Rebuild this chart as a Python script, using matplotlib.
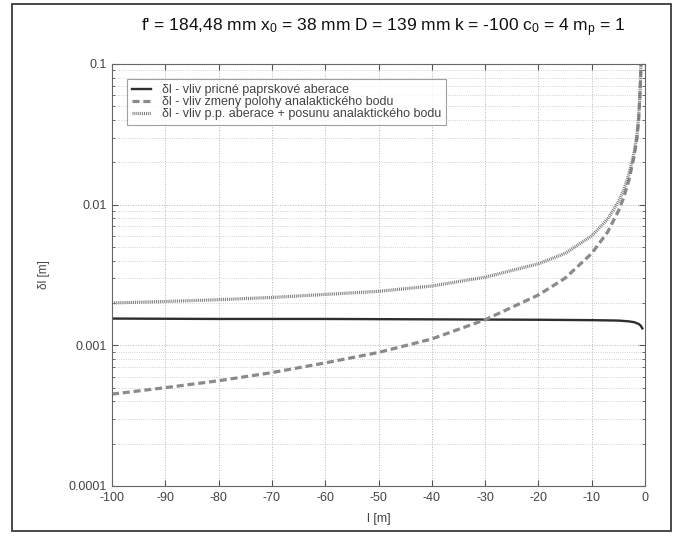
import matplotlib
matplotlib.use("Agg")
import matplotlib.pyplot as plt
from matplotlib.patches import Rectangle
from matplotlib.ticker import FixedLocator, FixedFormatter, LogLocator, NullFormatter

plt.rcParams["font.family"] = ["Liberation Sans", "DejaVu Sans"]
plt.rcParams["mathtext.fontset"] = "custom"
plt.rcParams["mathtext.rm"] = "Liberation Sans"
plt.rcParams["mathtext.it"] = "Liberation Sans"
plt.rcParams["axes.unicode_minus"] = False

TITLE = "f' = 184,48 mm x$_0$ = 38 mm D = 139 mm k = -100 c$_0$ = 4 m$_p$ = 1"
LABELS = [
    "δl - vliv pricné paprskové aberace",
    "δl - vliv zmeny polohy analaktického bodu",
    "δl - vliv p.p. aberace + posunu analaktického bodu",
]

# distance l [m] and the three error curves delta l [m]
l_abr = [-100, -80, -60, -40, -20, -10, -5, -3, -2, -1.2, -0.8, -0.5]
d_abr = [0.00155, 0.00154, 0.00154, 0.00153, 0.00152, 0.00151, 0.00150,
         0.00148, 0.00146, 0.00142, 0.00138, 0.00132]

l_pos = [-100, -90, -80, -70, -60, -50, -40, -30, -20, -15, -10, -7, -5,
         -4, -3, -2, -1.5, -1.2, -1, -0.85, -0.75]
d_pos = [0.00045, 0.00050, 0.00056, 0.00064, 0.00075, 0.00089, 0.00111,
         0.00152, 0.00228, 0.0030, 0.0045, 0.0064, 0.0090, 0.0112, 0.0150,
         0.0225, 0.030, 0.040, 0.055, 0.075, 0.10]

l_sum = l_pos
d_sum = [0.0020, 0.00205, 0.00211, 0.00219, 0.0023, 0.00242, 0.00264,
         0.00305, 0.0038, 0.0045, 0.0060, 0.0079, 0.0105, 0.0127, 0.0165,
         0.024, 0.0315, 0.0415, 0.0565, 0.0765, 0.10]

x_ticks = list(range(-100, 1, 10))
y_ticks = [0.0001, 0.001, 0.01, 0.1]
y_ticklabels = ["0.0001", "0.001", "0.01", "0.1"]

fig = plt.figure(figsize=(6.77, 5.36), dpi=100)
fig.patches.append(Rectangle((12 / 677, 5 / 536), 659 / 677, 527 / 536,
                             transform=fig.transFigure, fill=False,
                             edgecolor="#3a3a3a", linewidth=1.3))
ax = fig.add_axes([112 / 677, 50 / 536, 533 / 677, 422 / 536])

ax.plot(l_abr, d_abr, color="#2e2e2e", linewidth=1.7, label=LABELS[0])
ax.plot(l_pos, d_pos, color="#8a8a8a", linewidth=2.3, dashes=(2.2, 1.2),
        label=LABELS[1])
ax.plot(l_sum, d_sum, color="#7a7a7a", linewidth=2.3, dashes=(0.3, 0.3),
        label=LABELS[2])

ax.set_yscale("log")
ax.set_xlim(-100, 0)
ax.set_ylim(0.0001, 0.1)
ax.xaxis.set_major_locator(FixedLocator(x_ticks))
ax.yaxis.set_major_locator(FixedLocator(y_ticks))
ax.yaxis.set_major_formatter(FixedFormatter(y_ticklabels))
ax.yaxis.set_minor_locator(LogLocator(base=10, subs=range(2, 10)))
ax.yaxis.set_minor_formatter(NullFormatter())

ax.grid(True, which="major", linestyle=":", color="#b5b5b5", linewidth=0.7)
ax.grid(True, which="minor", axis="y", linestyle=":", color="#c5c5c5",
        linewidth=0.6)
ax.tick_params(which="both", direction="in", top=True, right=True,
               colors="#555555", labelcolor="#444444", labelsize=9, pad=4)
ax.tick_params(which="major", length=4)
ax.tick_params(which="minor", length=2.5)
for s in ax.spines.values():
    s.set_color("#666666")
    s.set_linewidth(0.8)

ax.set_xlabel("l [m]", fontsize=9, color="#444444", labelpad=7)
ax.set_ylabel("δl [m]", fontsize=8.5, color="#444444", labelpad=13)

leg = ax.legend(loc="upper left", bbox_to_anchor=(15 / 533, (486 - 79) / 422),
                fontsize=9, frameon=True, fancybox=False, handlelength=1.5,
                handletextpad=0.9, labelspacing=0.0, borderpad=0.4,
                borderaxespad=0)
leg.get_frame().set_edgecolor("#888888")
leg.get_frame().set_linewidth(0.8)
for t in leg.get_texts():
    t.set_color("#444444")

fig.text(383 / 677, 1 - 28 / 536, TITLE, ha="center", va="center",
         fontsize=12.5, color="#111111")

fig.savefig("out.png", dpi=100)
